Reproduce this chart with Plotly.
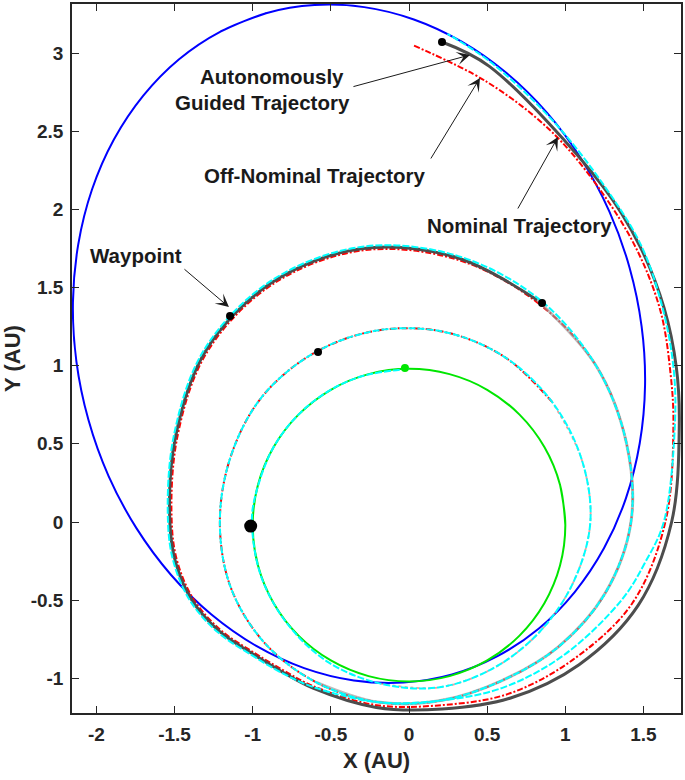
import numpy as np
import plotly.graph_objects as go

# ---------------- data (AU) ----------------
# Earth orbit (green), read around the circle
earth_x = [1.0, 0.966, 0.866, 0.707, 0.5, 0.259, 0.0, -0.259, -0.5, -0.707, -0.866, -0.966,
           -1.0, -0.966, -0.866, -0.707, -0.5, -0.259, 0.0, 0.259, 0.5, 0.707, 0.866, 0.966, 1.0, 0.966]
earth_y = [-0.02, 0.239, 0.48, 0.687, 0.846, 0.946, 0.98, 0.946, 0.846, 0.687, 0.48, 0.239,
           -0.02, -0.279, -0.52, -0.727, -0.886, -0.986, -1.02, -0.986, -0.886, -0.727, -0.52, -0.279, -0.02, 0.239]

# Target orbit (blue)
target_x = [-0.915, -1.206, -1.471, -1.700, -1.888, -2.028, -2.116, -2.150, -2.128, -2.051, -1.922, -1.743,
            -1.522, -1.264, -0.977, -0.671, -0.353, -0.035, 0.275, 0.566, 0.831, 1.060, 1.248, 1.388,
            1.476, 1.510, 1.488, 1.411, 1.282, 1.103, 0.882, 0.624, 0.337, 0.031, -0.287, -0.605,
            -0.915, -1.206]
target_y = [3.255, 3.138, 2.961, 2.728, 2.447, 2.127, 1.776, 1.406, 1.028, 0.654, 0.294, -0.041,
            -0.339, -0.592, -0.793, -0.935, -1.014, -1.027, -0.975, -0.858, -0.681, -0.448, -0.167, 0.153,
            0.504, 0.874, 1.252, 1.627, 1.986, 2.321, 2.619, 2.872, 3.073, 3.215, 3.294, 3.307,
            3.255, 3.138]

# Trajectories as heliocentric polar readings: cumulative angle (deg) and radius (AU)
coast_theta = [90, 110, 130, 150, 170]
coast_r = [0.98, 0.981, 0.985, 0.99, 0.997]

spiral_theta = [180, 200, 220, 240, 260, 280, 300, 320, 340, 360, 380, 400, 420, 440, 460, 480, 500,
                520, 540, 560, 580, 600, 620, 640, 660, 680, 700, 720, 740, 760, 780]
spiral_r = [1.005, 1.008, 1.015, 1.035, 1.05, 1.075, 1.08, 1.092, 1.12, 1.16, 1.175, 1.195, 1.22, 1.237,
            1.242, 1.24, 1.235, 1.215, 1.21, 1.215, 1.205, 1.185, 1.17, 1.16, 1.175, 1.245, 1.335, 1.42,
            1.48, 1.56, 1.64]

guided_theta = [780, 800, 820, 840, 860, 880, 900, 910, 920, 930, 940, 950, 960, 980, 1000, 1020, 1040,
                1060, 1080, 1100, 1110, 1120, 1130, 1140, 1160, 1166]
guided_r = [1.64, 1.72, 1.775, 1.765, 1.70, 1.59, 1.53, 1.515, 1.475, 1.40, 1.31, 1.255, 1.228, 1.205,
            1.215, 1.30, 1.42, 1.56, 1.68, 1.84, 1.975, 2.13, 2.30, 2.48, 2.96, 3.077]

nominal_theta = [780, 800, 820, 840, 860, 880, 900, 910, 920, 930, 940, 950, 960, 980, 1000, 1020, 1040,
                 1060, 1080, 1100, 1110, 1120, 1130, 1140, 1150, 1160, 1169.5]
nominal_r = [1.628, 1.708, 1.763, 1.753, 1.688, 1.578, 1.518, 1.503, 1.463, 1.388, 1.298, 1.243, 1.215,
             1.19, 1.19, 1.27, 1.37, 1.52, 1.64, 1.80, 1.93, 2.10, 2.27, 2.45, 2.66, 2.86, 3.05]

offnom_theta = [780, 800, 820, 840, 860, 880, 900, 910, 920, 930, 940, 950, 960, 980, 1000, 1020, 1040,
                1060, 1070, 1080, 1100, 1110, 1120, 1130, 1140, 1150, 1160, 1165.5]
offnom_r = [1.652, 1.732, 1.787, 1.777, 1.712, 1.602, 1.542, 1.527, 1.487, 1.412, 1.32, 1.262, 1.22,
            1.17, 1.16, 1.22, 1.31, 1.45, 1.53, 1.63, 1.81, 1.955, 2.12, 2.31, 2.49, 2.72, 2.99, 3.132]

# Markers
waypoint_x = [-0.582, 0.851, -1.145]
waypoint_y = [1.088, 1.401, 1.318]
start_x, start_y = [-1.013], [-0.026]
end_x, end_y = [0.211], [3.071]
earth_dot_x, earth_dot_y = [-0.026], [0.985]

# Axis ticks
xtick_vals = [-2, -1.5, -1, -0.5, 0, 0.5, 1, 1.5]
xtick_text = ["-2", "-1.5", "-1", "-0.5", "0", "0.5", "1", "1.5"]
ytick_vals = [-1, -0.5, 0, 0.5, 1, 1.5, 2, 2.5, 3]
ytick_text = ["-1", "-0.5", "0", "0.5", "1", "1.5", "2", "2.5", "3"]

# Annotation labels: (text, x, y)
labels = [("Autonomously", -0.877, 2.853),
          ("Guided Trajectory", -0.940, 2.687),
          ("Off-Nominal Trajectory", -0.601, 2.220),
          ("Nominal Trajectory", 0.704, 1.900),
          ("Waypoint", -1.747, 1.702)]
# Arrows: (tail x, tail y, tip x, tip y)
arrows = [(-0.365, 2.783, 0.39, 2.988),
          (0.134, 2.316, 0.454, 2.841),
          (0.691, 1.996, 0.953, 2.463),
          (-1.446, 1.625, -1.152, 1.375)]


def to_xy(theta, r):
    t = np.radians(np.asarray(theta, dtype=float))
    rr = np.asarray(r, dtype=float)
    return list(rr * np.cos(t)), list(rr * np.sin(t))


# ---------------- figure ----------------
fig = go.Figure()


def line(x, y, color, width, dash="solid", opacity=1.0):
    fig.add_trace(go.Scatter(x=x, y=y, mode="lines", opacity=opacity,
                             line=dict(color=color, width=width, dash=dash, shape="spline",
                                       smoothing=1.0, simplify=False),
                             hoverinfo="skip", showlegend=False))


line(target_x, target_y, "#0000ff", 2)
line(earth_x, earth_y, "#00e600", 2)

# nominal (red): faint first part, then full
fx, fy = to_xy(spiral_theta[4:12], spiral_r[4:12])
line(fx, fy, "#e06060", 1.8, dash="dot", opacity=0.6)
nx, ny = to_xy(spiral_theta[11:-1] + nominal_theta, spiral_r[11:-1] + nominal_r)
line(nx, ny, "#ff0000", 2, dash="6px,2px,2px,2px")

# guided (grey): light before the waypoint, dark after
lx, ly = to_xy(spiral_theta[21:], spiral_r[21:])
line(lx, ly, "#9a9a9a", 3, opacity=0.65)
gx, gy = to_xy(guided_theta, guided_r)
line(gx, gy, "#4d4d4d", 3)

# off-nominal (cyan) on top
cx, cy = to_xy(coast_theta + spiral_theta[:-1] + offnom_theta, coast_r + spiral_r[:-1] + offnom_r)
line(cx, cy, "#00ffff", 2, dash="7px,2px")


def dots(x, y, color, size):
    fig.add_trace(go.Scatter(x=x, y=y, mode="markers",
                             marker=dict(color=color, size=size, line=dict(width=0)),
                             hoverinfo="skip", showlegend=False))


dots(waypoint_x, waypoint_y, "black", 8)
dots(end_x, end_y, "black", 8)
dots(start_x, start_y, "black", 13)
dots(earth_dot_x, earth_dot_y, "#00e600", 8)

for t, x, y in labels:
    fig.add_annotation(x=x, y=y, text="<b>%s</b>" % t, showarrow=False,
                       font=dict(family="Liberation Sans, Arial", size=20.5, color="#1a1a1a"),
                       xanchor="center", yanchor="middle")
for ax_, ay_, x, y in arrows:
    fig.add_annotation(x=x, y=y, ax=ax_, ay=ay_, axref="x", ayref="y", text="",
                       showarrow=True, arrowhead=3, arrowsize=2.2, arrowwidth=1,
                       arrowcolor="#1a1a1a", standoff=0, startstandoff=0)

axis_font = dict(family="Liberation Sans, Arial", size=19, color="#262626")
common = dict(ticks="inside", ticklen=7, tickwidth=1.3, tickcolor="#262626",
              showline=True, linecolor="#262626", linewidth=1.5, mirror="ticks",
              showgrid=False, zeroline=False, tickfont=axis_font, automargin=False,
              ticklabelstandoff=3)

fig.update_xaxes(range=[-2.156, 1.740], tickvals=xtick_vals, ticktext=["<b>%s</b>" % s for s in xtick_text],
                 title=dict(text="<b>X (AU)</b>", font=dict(family="Liberation Sans, Arial", size=22, color="#262626"),
                            standoff=9), **common)
fig.update_yaxes(range=[-1.222, 3.314], tickvals=ytick_vals, ticktext=["<b>%s</b>" % s for s in ytick_text],
                 title=dict(text="<b>Y (AU)</b>", font=dict(family="Liberation Sans, Arial", size=22, color="#262626"),
                            standoff=5), **common)

fig.update_layout(width=685, height=780, margin=dict(l=72, r=4, t=4, b=67),
                  plot_bgcolor="white", paper_bgcolor="white", hovermode=False)

fig.write_html("out.html", config={"displayModeBar": False})
